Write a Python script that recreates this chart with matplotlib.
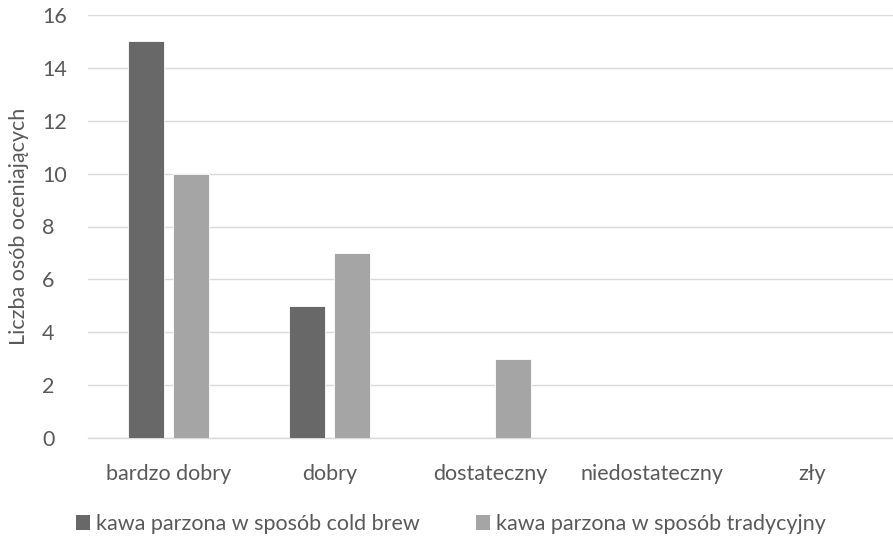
import matplotlib
matplotlib.use("Agg")
import matplotlib.pyplot as plt
import numpy as np
from matplotlib.patches import Patch

plt.rcParams['font.family'] = ['Lato', 'DejaVu Sans']

categories = ["bardzo dobry", "dobry", "dostateczny", "niedostateczny", "zły"]
cold_brew = [15, 5, 0, 0, 0]
tradycyjna = [10, 7, 3, 0, 0]
series_names = ["kawa parzona w sposób cold brew", "kawa parzona w sposób tradycyjny"]
yticks = [0, 2, 4, 6, 8, 10, 12, 14, 16]

dark = "#686868"
light = "#a5a5a5"
text_col = "#595959"
fs = 15.5

fig = plt.figure(figsize=(8.93, 5.38), dpi=100)
ax = fig.add_axes([88 / 893, 1 - 438 / 538, (893 - 88) / 893, (438 - 15) / 538])

x = np.arange(len(categories))
w = 0.223
gap = 0.06
ax.bar(x - (w + gap) / 2, cold_brew, width=w, color=dark, edgecolor="white", linewidth=0.6, zorder=3)
ax.bar(x + (w + gap) / 2, tradycyjna, width=w, color=light, edgecolor="white", linewidth=0.6, zorder=3)

ax.set_xlim(-0.5, len(categories) - 0.5)
ax.set_ylim(0, 16)
ax.set_yticks(yticks)
ax.set_xticks(x)
ax.set_xticklabels(categories)
ax.grid(axis="y", color="#d9d9d9", linewidth=1.0, zorder=0)
for s in ["top", "right", "left"]:
    ax.spines[s].set_visible(False)
ax.spines["bottom"].set_color("#d9d9d9")
ax.spines["bottom"].set_linewidth(1.0)
ax.tick_params(axis="both", length=0, colors=text_col, labelsize=fs)
ax.tick_params(axis="y", pad=33)
ax.tick_params(axis="x", pad=18.5)
for lbl in ax.get_yticklabels():
    lbl.set_horizontalalignment("left")
ax.set_ylabel("Liczba osób oceniających", fontsize=fs, color=text_col)
ax.yaxis.set_label_coords((29 - 88) / 805, 0.5)

handles = [Patch(facecolor=dark), Patch(facecolor=light)]
fig.legend(handles, series_names, loc="center", bbox_to_anchor=(451 / 893, 1 - 524 / 538),
           ncol=2, frameon=False, fontsize=fs, labelcolor=text_col,
           handlelength=0.65, handleheight=0.65, handletextpad=0.25, columnspacing=2.65)

fig.savefig("out.png", dpi=100)
